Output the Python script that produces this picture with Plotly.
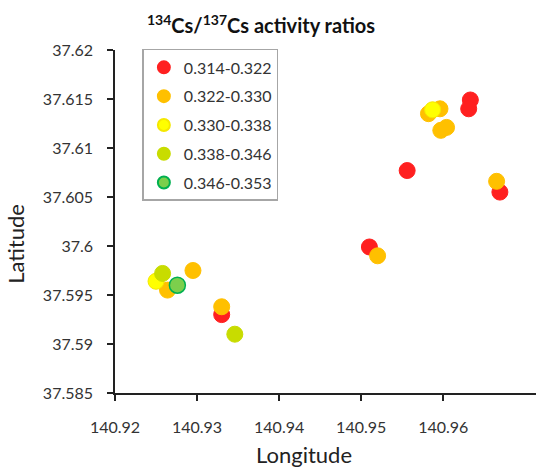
import plotly.graph_objects as go

# Data
class_labels = ["0.314-0.322", "0.322-0.330", "0.330-0.338", "0.338-0.346", "0.346-0.353"]
class_colors = ["#FF2020", "#FFC000", "#FFFF00", "#C8DC00", "#7CCF4C"]
class_lines = ["#FF2020", "#FFC000", "#F5E800", "#C8DC00", "#00B050"]

lon_red = [140.9556, 140.9669, 140.9510, 140.9330, 140.9633, 140.9631]
lat_red = [37.6077, 37.6055, 37.5999, 37.5930, 37.6149, 37.6140]

lon_orange = [140.9665, 140.9520, 140.9264, 140.9295, 140.9330, 140.9582, 140.9596, 140.9597, 140.9604]
lat_orange = [37.6066, 37.5990, 37.5955, 37.5975, 37.5938, 37.6135, 37.6140, 37.6118, 37.6121]

lon_yellow = [140.9250, 140.9587]
lat_yellow = [37.5964, 37.6139]

lon_ygreen = [140.9258, 140.9346]
lat_ygreen = [37.5972, 37.5910]

lon_green = [140.9276]
lat_green = [37.5960]

series_lon = [lon_red, lon_orange, lon_yellow, lon_ygreen, lon_green]
series_lat = [lat_red, lat_orange, lat_yellow, lat_ygreen, lat_green]

x_ticks = [140.92, 140.93, 140.94, 140.95, 140.96]
y_ticks = [37.585, 37.59, 37.595, 37.6, 37.605, 37.61, 37.615, 37.62]
y_ticktext = ["37.585", "37.59", "37.595", "37.6", "37.605", "37.61", "37.615", "37.62"]

FONT = "Lato, sans-serif"

fig = go.Figure()
for i in range(5):
    fig.add_trace(go.Scatter(
        x=series_lon[i], y=series_lat[i], mode="markers", name=class_labels[i],
        legendgroup=class_labels[i],
        marker=dict(size=16, color=class_colors[i],
                    line=dict(color=class_lines[i], width=1.5 if i == 4 else 1)),
    ))

fig.update_layout(
    width=536, height=469,
    margin=dict(l=115, r=0, t=50, b=76),
    paper_bgcolor="white", plot_bgcolor="white",
    font=dict(family=FONT, color="#222222"),
    title=dict(text="<b><sup>134</sup>Cs/<sup>137</sup>Cs activity ratios</b>",
               x=0.487, xanchor="center", y=0.944, yanchor="middle",
               font=dict(size=20, color="#111111", family=FONT)),
    showlegend=True,
    legend=dict(x=0.065, y=1.003, xanchor="left", yanchor="top",
                bgcolor="white", bordercolor="#A6A6A6", borderwidth=1.5,
                font=dict(size=16, color="#333333", family=FONT),
                traceorder="grouped", tracegroupgap=5,
                itemsizing="constant"),
    xaxis=dict(range=[140.92, 140.9713], tickvals=x_ticks,
               ticktext=[f"{v:.2f}" for v in x_ticks],
               showline=True, linecolor="#222222", linewidth=1.5,
               ticks="outside", ticklen=6, tickwidth=1.5, tickcolor="#222222",
               ticklabelstandoff=13,
               showgrid=False, zeroline=False,
               tickfont=dict(size=16, color="#333333", family=FONT)),
    yaxis=dict(range=[37.585, 37.62], tickvals=y_ticks, ticktext=y_ticktext,
               showline=True, linecolor="#222222", linewidth=1.5,
               ticks="outside", ticklen=6, tickwidth=1.5, tickcolor="#222222",
               ticklabelstandoff=11,
               showgrid=False, zeroline=False,
               tickfont=dict(size=16, color="#333333", family=FONT)),
    annotations=[
        dict(text="Longitude", xref="paper", yref="paper", x=0.45, y=-0.18,
             xanchor="center", yanchor="middle", showarrow=False,
             font=dict(size=22, color="#222222", family=FONT)),
        dict(text="Latitude", xref="paper", yref="paper", x=-0.235, y=0.435,
             xanchor="center", yanchor="middle", textangle=-90, showarrow=False,
             font=dict(size=22, color="#222222", family=FONT)),
    ],
)

fig.write_html("out.html")
